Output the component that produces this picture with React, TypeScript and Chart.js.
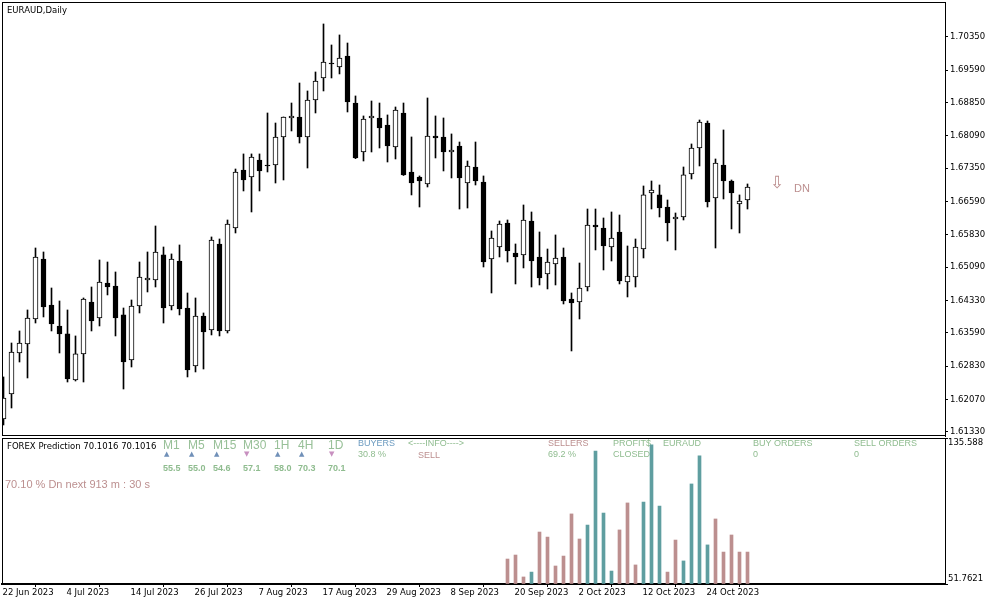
import { useEffect, useRef } from "react";
import { Chart, registerables } from "chart.js";

Chart.register(...registerables);

// ---------- DATA ----------
const dates = [
  "2023-06-22","2023-06-23","2023-06-26","2023-06-27","2023-06-28","2023-06-29","2023-06-30",
  "2023-07-03","2023-07-04","2023-07-05","2023-07-06","2023-07-07","2023-07-10","2023-07-11","2023-07-12","2023-07-13","2023-07-14",
  "2023-07-17","2023-07-18","2023-07-19","2023-07-20","2023-07-21","2023-07-24","2023-07-25","2023-07-26","2023-07-27","2023-07-28","2023-07-31",
  "2023-08-01","2023-08-02","2023-08-03","2023-08-04","2023-08-07","2023-08-08","2023-08-09","2023-08-10","2023-08-11","2023-08-14","2023-08-15",
  "2023-08-16","2023-08-17","2023-08-18","2023-08-21","2023-08-22","2023-08-23","2023-08-24","2023-08-25","2023-08-28","2023-08-29","2023-08-30","2023-08-31",
  "2023-09-01","2023-09-04","2023-09-05","2023-09-06","2023-09-07","2023-09-08","2023-09-11","2023-09-12","2023-09-13","2023-09-14","2023-09-15",
  "2023-09-18","2023-09-19","2023-09-20","2023-09-21","2023-09-22","2023-09-25","2023-09-26","2023-09-27","2023-09-28","2023-09-29",
  "2023-10-02","2023-10-03","2023-10-04","2023-10-05","2023-10-06","2023-10-09","2023-10-10","2023-10-11","2023-10-12","2023-10-13",
  "2023-10-16","2023-10-17","2023-10-18","2023-10-19","2023-10-20","2023-10-23","2023-10-24","2023-10-25","2023-10-26","2023-10-27","2023-10-30","2023-10-31",
];

const opens = [
  1.61621,1.62193,1.63129,1.63335,1.63906,1.65277,1.64226,1.63746,1.63564,1.62512,
  1.63107,1.64294,1.63929,1.64728,1.64660,1.63998,1.62969,1.64203,1.64797,1.64797,
  1.65369,1.64203,1.65231,1.64157,1.62832,1.63975,1.63655,1.65620,1.63632,1.65985,
  1.67311,1.67151,1.67539,1.67425,1.67425,1.68065,1.68499,1.68522,1.68065,1.68910,
  1.69413,1.69755,1.69664,1.69916,1.68841,1.67722,1.68499,1.68499,1.68339,1.67836,
  1.68613,1.67265,1.67151,1.66991,1.68088,1.68065,1.67722,1.67859,1.67013,1.67379,
  1.67036,1.65277,1.65551,1.66100,1.65414,1.65369,1.66145,1.65323,1.64934,1.65163,
  1.65323,1.64363,1.64294,1.64637,1.66054,1.65985,1.65551,1.65894,1.64751,1.64866,
  1.65505,1.66785,1.66740,1.66465,1.66191,1.66237,1.67220,1.67813,1.68384,1.66671,
  1.67425,1.67059,1.66534,1.66625,
];
const highs = [
  1.62581,1.63357,1.63632,1.64112,1.65528,1.65437,1.64614,1.64317,1.64112,1.63518,
  1.64386,1.64637,1.65254,1.65208,1.64980,1.64157,1.64340,1.65208,1.65437,1.66031,
  1.65551,1.65392,1.65597,1.64500,1.64386,1.64043,1.65780,1.65734,1.66168,1.67333,
  1.67677,1.67677,1.67677,1.68613,1.68384,1.68522,1.68841,1.69298,1.69116,1.69550,
  1.70647,1.70167,1.70396,1.70212,1.69002,1.68545,1.68887,1.68841,1.68568,1.68750,
  1.68841,1.68065,1.67174,1.68956,1.68545,1.68499,1.68134,1.67950,1.67516,1.67950,
  1.67174,1.65917,1.66145,1.66168,1.65620,1.66511,1.66351,1.65894,1.65505,1.65826,
  1.65528,1.64500,1.65185,1.66419,1.66419,1.66214,1.66351,1.66282,1.65574,1.65734,
  1.66945,1.67059,1.66968,1.66625,1.66328,1.67379,1.67905,1.68453,1.68430,1.67562,
  1.68225,1.67082,1.66740,1.66991,
];
const lows = [
  1.61484,1.61872,1.62923,1.62558,1.63814,1.63952,1.63632,1.63129,1.62466,1.62489,
  1.62466,1.63632,1.63746,1.64455,1.63518,1.62306,1.62809,1.64043,1.64523,1.64637,
  1.63814,1.64112,1.63998,1.62581,1.62695,1.62763,1.63541,1.63518,1.63586,1.65871,
  1.66831,1.66351,1.66831,1.67265,1.67013,1.67082,1.68202,1.67927,1.67356,1.68613,
  1.69116,1.69413,1.69505,1.68636,1.67570,1.67516,1.67722,1.67813,1.67493,1.67562,
  1.67185,1.66740,1.66465,1.66922,1.67585,1.67288,1.67128,1.66419,1.66442,1.66968,
  1.65094,1.64500,1.65323,1.65208,1.64706,1.65072,1.64637,1.64683,1.64592,1.64683,
  1.64249,1.63175,1.63906,1.64546,1.65483,1.65026,1.65231,1.64706,1.64409,1.64637,
  1.65300,1.66419,1.66237,1.65688,1.65483,1.66168,1.67105,1.67402,1.66465,1.65528,
  1.66648,1.65963,1.65871,1.66419,
];
const closes = [
  1.62101,1.63152,1.63357,1.63929,1.65323,1.64180,1.63792,1.63564,1.62535,1.63107,
  1.64363,1.63860,1.64751,1.64637,1.63929,1.62923,1.64203,1.64866,1.64843,1.65437,
  1.64157,1.65277,1.64134,1.62741,1.63975,1.63609,1.65711,1.63632,1.66077,1.67265,
  1.67082,1.67608,1.67288,1.67402,1.68065,1.68522,1.68545,1.68065,1.68910,1.69344,
  1.69778,1.69733,1.69870,1.68864,1.67585,1.68476,1.68545,1.68270,1.67859,1.68682,
  1.67197,1.67013,1.67059,1.68088,1.68042,1.67722,1.67768,1.67128,1.67402,1.67059,
  1.65208,1.65757,1.66077,1.65460,1.65323,1.66168,1.65231,1.64843,1.65208,1.65300,
  1.64317,1.64272,1.64614,1.66054,1.66008,1.65574,1.65757,1.64774,1.64889,1.65551,
  1.66740,1.66854,1.66442,1.66100,1.66237,1.67197,1.67813,1.68407,1.66579,1.67471,
  1.67059,1.66785,1.66602,1.66922,
];

const priceTicks = [1.7035, 1.6959, 1.6885, 1.6809, 1.6735, 1.6659, 1.6583, 1.6509, 1.6433, 1.6359, 1.6283, 1.6207, 1.6133];
const priceMin = 1.61232;
const priceMax = 1.71149;

const xTickIndex = [0, 8, 16, 24, 32, 40, 48, 56, 64, 72, 80, 88];
const xTickLabels = [
  "22 Jun 2023", "4 Jul 2023", "14 Jul 2023", "26 Jul 2023", "7 Aug 2023", "17 Aug 2023",
  "29 Aug 2023", "8 Sep 2023", "20 Sep 2023", "2 Oct 2023", "12 Oct 2023", "24 Oct 2023",
];

const histStartIndex = 63;
const histValues = [
  66.1, 68.4, 55.8, 58.6, 81.6, 78.7, 62.1, 67.8, 92.0, 77.6,
  85.6, 128.1, 92.5, 59.2, 82.8, 98.3, 62.7, 98.8, 131.6, 96.5,
  58.6, 77.0, 65.0, 109.2, 125.3, 74.2, 89.1, 70.1, 79.9, 70.1, 70.1,
];
const histSide = [
  "S","S","S","B","S","S","S","S","S","S",
  "B","B","B","B","S","S","S","B","B","B",
  "S","S","B","B","B","B","S","S","S","S","S",
];
const histMin = 51.7621;
const histMax = 135.588;

const tfLabels = ["M1", "M5", "M15", "M30", "1H", "4H", "1D"];
const tfDir = ["up", "up", "up", "dn", "up", "up", "dn"];
const tfValues = ["55.5", "55.0", "54.6", "57.1", "58.0", "70.3", "70.1"];

const signalIndex = 96.2;
const signalPrice = 1.6699;

// ---------- STYLE ----------
const X_MIN = -0.1875;
const X_MAX = 117.6875;
const AXIS_FONT = { family: "DejaVu Sans", size: 8.5 };
const GREEN = "#8FBC8F";
const ROSY = "#BC8F8F";
const TEAL = "#5F9EA0";

const topPlugin = {
  id: "topDecor",
  afterDraw(chart: any) {
    const { ctx, chartArea: a } = chart;
    ctx.save();
    ctx.strokeStyle = "#000";
    ctx.lineWidth = 1;
    ctx.beginPath();
    ctx.moveTo(a.left + 0.5, a.top);
    ctx.lineTo(a.left + 0.5, a.bottom);
    ctx.moveTo(a.left, a.top + 0.5);
    ctx.lineTo(a.right + 1, a.top + 0.5);
    ctx.moveTo(a.left, a.bottom - 0.5);
    ctx.lineTo(a.right + 1, a.bottom - 0.5);
    ctx.stroke();

    ctx.textBaseline = "middle";
    ctx.textAlign = "left";
    ctx.fillStyle = "#000";
    ctx.font = '8.5px "DejaVu Sans"';
    ctx.fillText("EURAUD,Daily", 7, 11);

    const x = chart.scales.x.getPixelForValue(signalIndex);
    const y = chart.scales.y.getPixelForValue(signalPrice);
    ctx.fillStyle = ROSY;
    ctx.font = '17px "DejaVu Sans"';
    ctx.fillText("\u21E9", x - 3, y);
    ctx.font = '11px "Liberation Sans"';
    ctx.fillText("DN", x + 21, y + 5);
    ctx.restore();
  },
};

const botPlugin = {
  id: "botDecor",
  beforeDatasetsDraw(chart: any) {
    const { ctx, chartArea: a } = chart;
    ctx.save();
    ctx.textBaseline = "middle";
    ctx.textAlign = "left";
    ctx.fillStyle = "#000";
    ctx.font = '8.5px "DejaVu Sans"';
    ctx.fillText("FOREX Prediction 70.1016 70.1016", 7, 9.7);

    const tfX = [163, 188, 213, 243, 274, 298, 328];
    tfLabels.forEach((t, i) => {
      ctx.fillStyle = "#98C098";
      ctx.font = '12px "Liberation Sans"';
      ctx.fillText(t, tfX[i], 8.7);
      ctx.font = '7px "DejaVu Sans"';
      ctx.fillStyle = tfDir[i] === "up" ? "#7090B8" : "#C890C0";
      ctx.fillText(tfDir[i] === "up" ? "\u25B2" : "\u25BC", tfX[i] + 1, 17.5);
      ctx.fillStyle = GREEN;
      ctx.font = 'bold 9px "Liberation Sans"';
      ctx.fillText(tfValues[i], tfX[i], 32);
    });

    const f9 = '9px "Liberation Sans"';
    const items: [string, number, number, string][] = [
      ["BUYERS", 358, 7, "#6C9BC0"],
      ["30.8 %", 358, 17.5, GREEN],
      ["<----INFO---->", 408, 7, GREEN],
      ["SELL", 418, 18.5, ROSY],
      ["SELLERS", 548, 7, ROSY],
      ["69.2 %", 548, 17.5, GREEN],
      ["PROFIT$", 613, 7, GREEN],
      ["CLOSED", 613, 17.5, GREEN],
      ["EURAUD", 663, 7, GREEN],
      ["BUY ORDERS", 753, 7, GREEN],
      ["0", 753, 17.5, GREEN],
      ["SELL ORDERS", 854, 7, GREEN],
      ["0", 854, 17.5, GREEN],
    ];
    ctx.font = f9;
    items.forEach(([t, x, y, c]) => {
      ctx.fillStyle = c;
      ctx.fillText(t, x, y);
    });

    ctx.fillStyle = ROSY;
    ctx.font = '11px "Liberation Sans"';
    ctx.fillText("70.10 % Dn next 913 m : 30 s", 5, 48);

    ctx.strokeStyle = "#000";
    ctx.lineWidth = 1;
    ctx.beginPath();
    ctx.moveTo(a.left + 0.5, a.top);
    ctx.lineTo(a.left + 0.5, a.bottom);
    ctx.moveTo(a.left, a.top + 0.5);
    ctx.lineTo(a.right + 1, a.top + 0.5);
    ctx.stroke();
    ctx.restore();
  },
};

function topConfig(): any {
  const up = closes.map((c, i) => c >= opens[i]);
  return {
    type: "bar",
    data: {
      datasets: [
        {
          label: "wick",
          data: dates.map((d, i) => ({ x: i, y: [lows[i], highs[i]] })),
          backgroundColor: "#000",
          borderWidth: 0,
          barThickness: 1,
          grouped: false,
          order: 2,
          clip: 0,
        },
        {
          label: "body",
          data: dates.map((d, i) => ({ x: i, y: [opens[i], closes[i]] })),
          backgroundColor: up.map((u) => (u ? "#fff" : "#000")),
          borderColor: "#000",
          borderWidth: 1,
          borderSkipped: false,
          barThickness: 5,
          grouped: false,
          order: 1,
          clip: 0,
        },
      ],
    },
    options: {
      animation: false,
      responsive: false,
      devicePixelRatio: 1,
      layout: { padding: { left: 2, top: 2, right: 0, bottom: 1 } },
      plugins: { legend: { display: false }, tooltip: { enabled: false }, title: { display: false } },
      events: [],
      scales: {
        x: { type: "linear", display: false, min: X_MIN, max: X_MAX, offset: false },
        y: {
          position: "right",
          min: priceMin,
          max: priceMax,
          afterBuildTicks: (s: any) => {
            s.ticks = priceTicks.map((v) => ({ value: v }));
          },
          afterFit: (s: any) => {
            s.width = 46;
            s.paddingTop = 0;
            s.paddingBottom = 0;
          },
          ticks: {
            autoSkip: false,
            padding: 2,
            color: "#000",
            font: AXIS_FONT,
            callback: (v: any) => Number(v).toFixed(5),
          },
          grid: { display: true, drawOnChartArea: false, drawTicks: true, tickLength: 3, color: "#000" },
          border: { display: true, color: "#000", width: 1 },
        },
      },
    },
    plugins: [topPlugin],
  };
}

function botConfig(): any {
  return {
    type: "bar",
    data: {
      datasets: [
        {
          label: "hist",
          data: histValues.map((v, k) => ({ x: histStartIndex + k, y: v })),
          backgroundColor: histSide.map((s) => (s === "B" ? TEAL : ROSY)),
          borderWidth: 0,
          barThickness: 3,
          base: histMin,
          grouped: false,
          clip: 0,
        },
      ],
    },
    options: {
      animation: false,
      responsive: false,
      devicePixelRatio: 1,
      layout: { padding: { left: 2, top: 1, right: 0, bottom: 0 } },
      plugins: { legend: { display: false }, tooltip: { enabled: false } },
      events: [],
      scales: {
        x: {
          type: "linear",
          position: "bottom",
          min: X_MIN,
          max: X_MAX,
          offset: false,
          afterBuildTicks: (s: any) => {
            s.ticks = xTickIndex.map((v) => ({ value: v }));
          },
          afterFit: (s: any) => {
            s.height = 21;
            s.paddingLeft = 0;
            s.paddingRight = 0;
          },
          ticks: {
            autoSkip: false,
            maxRotation: 0,
            minRotation: 0,
            align: "start",
            labelOffset: -1,
            padding: 1,
            color: "#000",
            font: AXIS_FONT,
            callback: (v: any, i: number) => xTickLabels[i],
          },
          grid: { display: true, drawOnChartArea: false, drawTicks: true, tickLength: 3, color: "#000" },
          border: { display: true, color: "#000", width: 2, dash: [19, 5] },
        },
        y: {
          position: "right",
          min: histMin,
          max: histMax,
          afterBuildTicks: (s: any) => {
            s.ticks = [{ value: histMin }, { value: histMax }];
          },
          afterFit: (s: any) => {
            s.width = 46;
            s.paddingTop = 0;
            s.paddingBottom = 0;
          },
          ticks: {
            autoSkip: false,
            padding: 0,
            color: "#000",
            font: AXIS_FONT,
            callback: (v: any) => (Number(v) >= histMax ? ["", String(histMax)] : [String(histMin), ""]),
          },
          grid: { display: true, drawOnChartArea: false, drawTicks: true, tickLength: 3, color: "#000" },
          border: { display: true, color: "#000", width: 1 },
        },
      },
    },
    plugins: [botPlugin],
  };
}

export default function App() {
  const topRef = useRef<HTMLCanvasElement>(null);
  const botRef = useRef<HTMLCanvasElement>(null);

  useEffect(() => {
    const top = new Chart(topRef.current as HTMLCanvasElement, topConfig());
    const bot = new Chart(botRef.current as HTMLCanvasElement, botConfig());
    return () => {
      top.destroy();
      bot.destroy();
    };
  }, []);

  return (
    <div style={{ position: "fixed", left: 0, top: 0, width: 991, height: 605, background: "#fff", overflow: "hidden" }}>
      <canvas
        ref={topRef}
        width={991}
        height={437}
        style={{ position: "absolute", left: 0, top: 0, width: 991, height: 437 }}
      />
      <canvas
        ref={botRef}
        width={991}
        height={168}
        style={{ position: "absolute", left: 0, top: 437, width: 991, height: 168 }}
      />
    </div>
  );
}
